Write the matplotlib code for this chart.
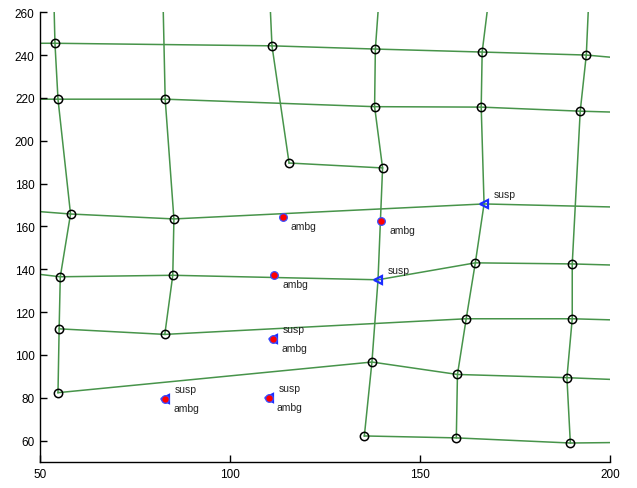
import numpy as np
import matplotlib
matplotlib.use("Agg")
import matplotlib.pyplot as plt

plt.rcParams['font.family'] = ['Liberation Sans', 'DejaVu Sans']

# grid node positions (0..30) followed by points where lines leave the frame (31..)
pt_x = [53.9, 111.0, 138.2, 166.3, 193.7,
        54.7, 82.9, 138.0, 166.05, 192.1,
        115.5, 140.1,
        58.0, 85.2, 166.8,
        55.3, 84.9, 138.9, 164.5, 190.0,
        55.0, 82.8, 162.1, 190.0,
        54.7, 137.3, 159.8, 188.6,
        135.3, 159.5, 189.5,
        # frame ends
        50, 200, 50, 200, 50, 200, 50, 200, 200, 200, 200,
        53.7, 82.4, 110.6, 138.9, 167.6, 194.2]
pt_y = [245.5, 244.3, 242.8, 241.4, 240.0,
        219.4, 219.4, 215.9, 215.7, 213.8,
        189.6, 187.3,
        165.8, 163.5, 170.5,
        136.5, 137.2, 135.1, 143.0, 142.5,
        112.2, 109.6, 116.9, 116.9,
        82.4, 96.7, 90.9, 89.4,
        62.2, 61.3, 58.9,
        245.5, 239.0, 219.4, 213.4, 166.9, 169.1, 137.6, 142.0, 116.4, 88.6, 59.1,
        260, 260, 260, 260, 260, 260]
n_nodes = 31

# polylines through the points above
rows = [[31, 0, 1, 2, 3, 4, 32],
        [33, 5, 6, 7, 8, 9, 34],
        [10, 11],
        [35, 12, 13, 14, 36],
        [37, 15, 16, 17, 18, 19, 38],
        [20, 21, 22, 23, 39],
        [24, 25, 26, 27, 40],
        [28, 29, 30, 41]]
cols = [[42, 0, 5, 12, 15, 20, 24],
        [43, 6, 13, 16, 21],
        [44, 1, 10],
        [45, 2, 7, 11, 17, 25, 28],
        [46, 3, 8, 14, 18, 22, 26, 29],
        [47, 4, 9, 19, 23, 27, 30]]

# flagged points
ambg_x = [113.9, 139.7, 111.6, 111.3, 82.9, 110.1]
ambg_y = [164.4, 162.7, 137.2, 107.6, 79.6, 79.9]
susp_x = [166.8, 138.9, 111.3, 82.9, 110.1]
susp_y = [170.5, 135.1, 107.6, 79.6, 79.9]

pt_x = np.array(pt_x)
pt_y = np.array(pt_y)

fig = plt.figure(figsize=(6.37, 4.89), dpi=100)
ax = fig.add_axes([0.063, 0.053, 0.895, 0.92])

green = '#47944a'
for path in rows + cols:
    ax.plot(pt_x[path], pt_y[path], color=green, lw=1.1, zorder=1)

# plain nodes (the suspicious ones get a triangle instead)
plain = [i for i in range(n_nodes)
         if not any(abs(pt_x[i] - sx) < 0.01 and abs(pt_y[i] - sy) < 0.01
                    for sx, sy in zip(susp_x, susp_y))]
ax.plot(pt_x[plain], pt_y[plain], 'o', ms=6, mfc='none', mec='black',
        mew=1.1, zorder=3)

ax.plot(susp_x, susp_y, '<', ms=6, mfc='none', mec='#1a2cff', mew=1.6, zorder=4)
ax.plot(ambg_x, ambg_y, 'o', ms=5.5, mfc='red', mec='#3a4cff', mew=0.9, zorder=5)

for x, y in zip(ambg_x, ambg_y):
    ax.annotate('ambg', (x, y), xytext=(8, -9), textcoords='offset pixels',
                ha='left', va='center', fontsize=7.5, color='#222222')
for x, y in zip(susp_x, susp_y):
    ax.annotate('susp', (x, y), xytext=(10, 10), textcoords='offset pixels',
                ha='left', va='center', fontsize=7.5, color='#222222')

ax.set_xlim(50, 200)
ax.set_ylim(50, 260)
ax.set_xticks([50, 100, 150, 200])
ax.set_yticks(np.arange(60, 261, 20))
ax.spines['top'].set_visible(False)
ax.spines['right'].set_visible(False)
ax.spines['left'].set_linewidth(1.0)
ax.spines['bottom'].set_linewidth(1.0)
ax.tick_params(direction='in', length=5, width=1.0, labelsize=8.5, pad=4)

fig.savefig('out.png', dpi=100)
